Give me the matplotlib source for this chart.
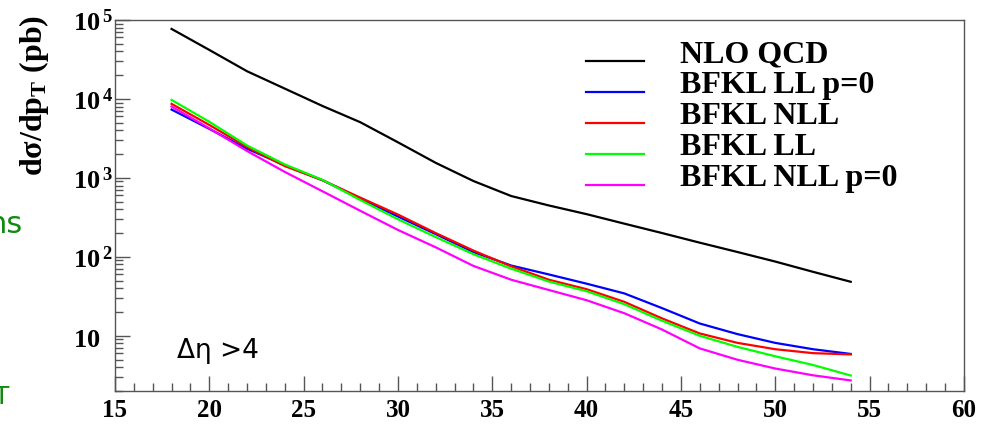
import matplotlib
matplotlib.use("Agg")
from matplotlib import pyplot as plt
from matplotlib.ticker import FixedLocator, FixedFormatter, LogLocator, NullFormatter, MultipleLocator

pt = [18, 20, 22, 24, 26, 28, 30, 32, 34, 36, 38, 40, 42, 44, 46, 48, 50, 52, 54]

nlo_qcd = [76900, 41700, 22400, 13500, 8130, 5070, 2820, 1550, 912, 589, 447,
           347, 263, 200, 151, 115, 87.1, 64.6, 48.3]
bfkl_ll_p0 = [7330, 4170, 2340, 1445, 933, 550, 324, 194, 115, 77.6, 59.8,
              45.7, 34.4, 22.4, 14.3, 10.5, 8.13, 6.76, 5.89]
bfkl_nll = [8650, 4680, 2450, 1410, 933, 562, 343, 200, 120, 75.9, 51.3,
            38.9, 26.9, 16.6, 10.7, 8.13, 6.76, 6.03, 5.81]
bfkl_ll = [9700, 5130, 2570, 1480, 944, 525, 299, 178, 108, 70.8, 48.6,
           36.7, 25.1, 15.5, 10.0, 7.24, 5.50, 4.27, 3.14]
bfkl_nll_p0 = [8000, 4240, 2190, 1190, 676, 383, 219, 132, 76.7, 51.3, 38.0,
               28.2, 19.3, 12.0, 6.92, 4.97, 3.85, 3.16, 2.72]

labels = ["NLO QCD", "BFKL LL p=0", "BFKL NLL", "BFKL LL", "BFKL NLL p=0"]
colors = ["black", "#0000ff", "#ff0000", "#00ff00", "#ff00ff"]

y_ticks = [10, 100, 1000, 10000, 100000]
y_ticklabels = [r"$10$", r"$10^{\,2}$", r"$10^{\,3}$", r"$10^{\,4}$", r"$10^{\,5}$"]

plt.rcParams['mathtext.fontset'] = 'custom'
plt.rcParams['mathtext.rm'] = 'Liberation Serif:bold'
plt.rcParams['mathtext.it'] = 'Liberation Serif:bold'
plt.rcParams['mathtext.bf'] = 'Liberation Serif:bold'

fig = plt.figure(figsize=(9.86, 4.27), dpi=100)
ax = fig.add_axes([0.1166, 0.082, 0.861, 0.869])

series = [nlo_qcd, bfkl_ll_p0, bfkl_nll, bfkl_ll, bfkl_nll_p0]
for vals, col in zip(series, colors):
    ax.plot(pt, vals, color=col, lw=1.6)

ax.set_yscale("log")
ax.set_xlim(15, 60)
ax.set_ylim(2.0, 1e5)

ax.yaxis.set_major_locator(FixedLocator(y_ticks))
ax.yaxis.set_major_formatter(FixedFormatter(y_ticklabels))
ax.yaxis.set_minor_locator(LogLocator(base=10, subs=range(2, 10), numticks=20))
ax.yaxis.set_minor_formatter(NullFormatter())
ax.xaxis.set_major_locator(MultipleLocator(5))
ax.xaxis.set_minor_locator(MultipleLocator(1))

ax.tick_params(which="both", direction="in", top=False, right=False, color="#555555")
ax.tick_params(which="major", length=11, width=1)
ax.tick_params(which="minor", length=5.5, width=1)
ax.tick_params(axis="x", which="major", pad=5)
ax.tick_params(axis="y", which="major", pad=30)
for lab in ax.get_yticklabels():
    lab.set_horizontalalignment("left")
    lab.set_fontsize(19)
for lab in ax.get_xticklabels():
    lab.set_fontfamily("Liberation Serif")
    lab.set_fontweight("bold")
    lab.set_fontsize(18)

for sp in ax.spines.values():
    sp.set_color("#555555")
    sp.set_linewidth(1)

# legend drawn by hand, ROOT style
leg_y = [0.889, 0.806, 0.722, 0.639, 0.555]
for lab, col, yy in zip(labels, colors, leg_y):
    ax.plot([0.555, 0.623], [yy, yy], color=col, lw=1.6, transform=ax.transAxes)
    ax.text(0.666, yy, lab, transform=ax.transAxes, va="baseline", ha="left",
            fontfamily="Liberation Serif", fontweight="bold", fontsize=23)

ax.text(0.073, 0.092, r"Δη >4", transform=ax.transAxes, fontsize=19,
        fontfamily="DejaVu Sans", va="baseline", ha="left")

fig.text(0.034, 1 - 95 / 427, "dσ/dp$_{\\mathrm{T}}$ (pb)", rotation=90,
         ha="center", va="center", fontfamily="Liberation Serif",
         fontweight="bold", fontsize=23)

# bits of green text cut off at the left edge
fig.text(22 / 986, 1 - 233 / 427, "ns", color="#108a10", fontsize=22,
         ha="right", va="baseline")
fig.text(2 / 986, 1 - 404 / 427, "T", color="#108a10", fontsize=18,
         ha="center", va="baseline")

fig.savefig("out.png", dpi=100)
